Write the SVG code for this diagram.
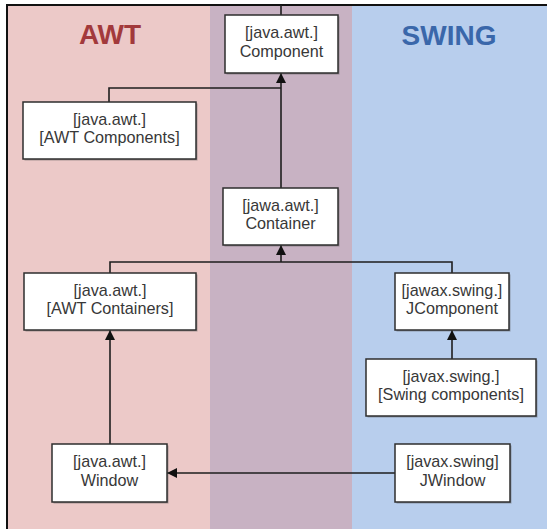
<svg xmlns="http://www.w3.org/2000/svg" width="547" height="529" viewBox="0 0 547 529">
<defs>
<style>
.box{fill:#ffffff;stroke:#2e2e2e;stroke-width:1.5}
.shd{fill:#555;opacity:0.45}
.t{font-family:"Liberation Sans",Arial,sans-serif;font-size:16.2px;fill:#383838;text-anchor:middle}
.lbl{font-family:"Liberation Sans",Arial,sans-serif;font-size:28px;font-weight:bold;text-anchor:middle}
.ln{fill:none;stroke:#1e1e1e;stroke-width:1.6}
</style>
<marker id="ah" viewBox="0 0 10 10" refX="10" refY="5" markerWidth="10" markerHeight="10" markerUnits="userSpaceOnUse" orient="auto">
<path d="M0,0 L10,5 L0,10 Z" fill="#111"/>
</marker>
</defs>
<rect x="0" y="0" width="547" height="529" fill="#ffffff"/>
<rect x="8" y="5" width="202" height="524" fill="#ECC9C8"/>
<rect x="210" y="5" width="142" height="524" fill="#C8B2C3"/>
<rect x="352" y="5" width="195" height="524" fill="#B8CEED"/>
<line x1="6" y1="5" x2="547" y2="5" stroke="#111" stroke-width="2"/>
<line x1="7" y1="4" x2="7" y2="529" stroke="#111" stroke-width="2"/>
<text class="lbl" x="110" y="44" fill="#A2393B">AWT</text>
<text class="lbl" x="449" y="45" fill="#3A67AA">SWING</text>
<g id="connectors">
<line class="ln" x1="281" y1="5" x2="281" y2="15"/>
<polyline class="ln" points="109,102 109,88 281,88"/>
<line class="ln" x1="281" y1="188" x2="281" y2="73" marker-end="url(#ah)"/>
<polyline class="ln" points="110,273 110,262 452,262 452,273"/>
<line class="ln" x1="281" y1="262" x2="281" y2="245" marker-end="url(#ah)"/>
<line class="ln" x1="110" y1="444" x2="110" y2="330" marker-end="url(#ah)"/>
<line class="ln" x1="452" y1="359" x2="452" y2="330" marker-end="url(#ah)"/>
<line class="ln" x1="395" y1="473" x2="167" y2="473" marker-end="url(#ah)"/>
</g>
<g id="component">
<rect class="shd" x="226.5" y="16.5" width="113" height="58"/>
<rect class="box" x="225" y="15" width="113" height="58"/>
<text class="t" x="281.5" y="38">[java.awt.]</text>
<text class="t" x="281.5" y="57">Component</text>
</g>
<g id="awt-components">
<rect class="shd" x="24.5" y="103.5" width="173" height="57"/>
<rect class="box" x="23" y="102" width="173" height="57"/>
<text class="t" x="109.5" y="124.5">[java.awt.]</text>
<text class="t" x="109.5" y="143">[AWT Components]</text>
</g>
<g id="container">
<rect class="shd" x="224.5" y="189.5" width="115" height="57"/>
<rect class="box" x="223" y="188" width="115" height="57"/>
<text class="t" x="280.5" y="210.5">[jawa.awt.]</text>
<text class="t" x="280.5" y="229">Container</text>
</g>
<g id="awt-containers">
<rect class="shd" x="25.5" y="274.5" width="172" height="57"/>
<rect class="box" x="24" y="273" width="172" height="57"/>
<text class="t" x="110" y="295.5">[java.awt.]</text>
<text class="t" x="110" y="314">[AWT Containers]</text>
</g>
<g id="jcomponent">
<rect class="shd" x="396.5" y="274.5" width="114" height="57"/>
<rect class="box" x="395" y="273" width="114" height="57"/>
<text class="t" x="452" y="295.5">[jawax.swing.]</text>
<text class="t" x="452" y="314">JComponent</text>
</g>
<g id="swing-components">
<rect class="shd" x="367.5" y="360.5" width="170" height="57"/>
<rect class="box" x="366" y="359" width="170" height="57"/>
<text class="t" x="451" y="381.5">[javax.swing.]</text>
<text class="t" x="451" y="400">[Swing components]</text>
</g>
<g id="window">
<rect class="shd" x="53.5" y="445.5" width="115" height="58"/>
<rect class="box" x="52" y="444" width="115" height="58"/>
<text class="t" x="109.5" y="467">[java.awt.]</text>
<text class="t" x="109.5" y="485.5">Window</text>
</g>
<g id="jwindow">
<rect class="shd" x="396.5" y="445.5" width="115" height="58"/>
<rect class="box" x="395" y="444" width="115" height="58"/>
<text class="t" x="452.5" y="467">[javax.swing]</text>
<text class="t" x="452.5" y="485.5">JWindow</text>
</g>
</svg>
